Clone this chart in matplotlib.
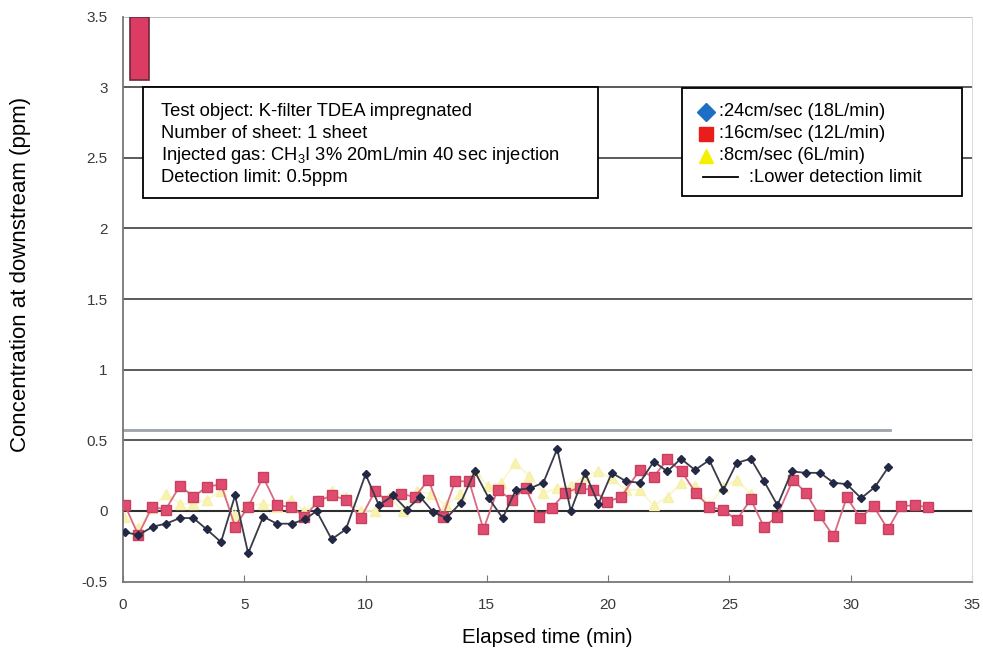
import matplotlib
matplotlib.use("Agg")
import matplotlib.pyplot as plt
from matplotlib.patches import Rectangle
from matplotlib.lines import Line2D

plt.rcParams['font.family'] = ['Liberation Sans', 'DejaVu Sans']
plt.rcParams['mathtext.fontset'] = 'custom'
plt.rcParams['mathtext.rm'] = 'Liberation Sans'
plt.rcParams['mathtext.it'] = 'Liberation Sans:italic'

# ---- data ----
t_24 = [0.08, 0.63, 1.25, 1.77, 2.35, 2.90, 3.45, 4.04, 4.62, 5.16, 5.78, 6.34, 6.95, 7.50,
        7.98, 8.60, 9.19, 10.00, 10.55, 11.14, 11.70, 12.25, 12.80, 13.34, 13.93, 14.50,
        15.08, 15.65, 16.20, 16.77, 17.33, 17.90, 18.46, 19.05, 19.60, 20.15, 20.74, 21.30,
        21.88, 22.44, 23.00, 23.58, 24.17, 24.75, 25.30, 25.88, 26.43, 26.98, 27.57, 28.15,
        28.74, 29.29, 29.84, 30.43, 31.00, 31.55]
c_24 = [-0.15, -0.17, -0.11, -0.09, -0.05, -0.05, -0.13, -0.22, 0.11, -0.30, -0.04, -0.09,
        -0.09, -0.06, 0.00, -0.20, -0.13, 0.26, 0.04, 0.11, 0.01, 0.10, -0.01, -0.05, 0.06,
        0.28, 0.09, -0.05, 0.15, 0.16, 0.20, 0.44, 0.00, 0.27, 0.05, 0.27, 0.21, 0.20, 0.35,
        0.28, 0.37, 0.29, 0.36, 0.15, 0.34, 0.37, 0.21, 0.04, 0.28, 0.27, 0.27, 0.20, 0.19,
        0.09, 0.17, 0.31]

t_16 = [0.08, 0.63, 1.20, 1.76, 2.35, 2.90, 3.45, 4.04, 4.62, 5.16, 5.78, 6.34, 6.91, 7.48,
        8.05, 8.60, 9.20, 9.80, 10.39, 10.90, 11.45, 12.04, 12.59, 13.18, 13.69, 14.27,
        14.86, 15.44, 16.02, 16.60, 17.15, 17.67, 18.24, 18.82, 19.39, 19.97, 20.54, 21.30,
        21.87, 22.44, 23.03, 23.62, 24.17, 24.75, 25.30, 25.88, 26.43, 26.95, 27.62, 28.15,
        28.70, 29.29, 29.84, 30.39, 30.94, 31.53, 32.08, 32.66, 33.20]
c_16 = [0.04, -0.17, 0.03, 0.01, 0.18, 0.10, 0.17, 0.19, -0.11, 0.03, 0.24, 0.04, 0.03,
        -0.04, 0.07, 0.11, 0.08, -0.05, 0.14, 0.07, 0.12, 0.10, 0.22, -0.04, 0.21, 0.21,
        -0.13, 0.15, 0.08, 0.16, -0.045, 0.02, 0.13, 0.165, 0.145, 0.066, 0.10, 0.29, 0.24,
        0.365, 0.28, 0.125, 0.03, 0.007, -0.064, 0.083, -0.115, -0.04, 0.22, 0.13, -0.03,
        -0.18, 0.097, -0.05, 0.035, -0.13, 0.035, 0.04, 0.026]

t_8 = [0.05, 0.63, 1.20, 1.77, 2.35, 2.90, 3.45, 4.04, 4.62, 5.16, 5.78, 6.34, 6.91, 7.48,
       8.05, 8.60, 9.20, 9.80, 10.39, 10.95, 11.55, 12.10, 12.70, 13.30, 13.90, 14.50,
       15.06, 15.60, 16.16, 16.75, 17.33, 17.90, 18.45, 19.05, 19.60, 20.15, 20.72, 21.30,
       21.87, 22.45, 23.02, 23.60, 24.17, 24.75, 25.30, 25.88]
c_8 = [-0.04, -0.12, 0.02, 0.12, 0.05, 0.05, 0.08, 0.14, -0.03, 0.04, 0.05, 0.03, 0.08,
       0.00, 0.08, 0.14, 0.10, 0.00, 0.00, 0.10, 0.00, 0.14, 0.12, 0.04, 0.12, 0.28, 0.18,
       0.20, 0.34, 0.25, 0.13, 0.16, 0.18, 0.25, 0.28, 0.23, 0.15, 0.15, 0.04, 0.10, 0.20,
       0.18, 0.04, 0.17, 0.22, 0.12]

# stray block at top-left (x0, x1, y0, y1)
block = [0.28, 1.08, 3.05, 3.5]
# light line just above the 0.5 gridline
upper_line_y = 0.57
upper_line_end = 31.6

x_ticks = [0, 5, 10, 15, 20, 25, 30, 35]
y_ticks = [-0.5, 0, 0.5, 1, 1.5, 2, 2.5, 3, 3.5]
y_tick_labels = ['-0.5', '0', '0.5', '1', '1.5', '2', '2.5', '3', '3.5']

info_lines = ["Test object: K-filter TDEA impregnated",
              "Number of sheet: 1 sheet",
              "Injected gas: CH$_3$I 3% 20mL/min 40 sec injection",
              "Detection limit: 0.5ppm"]
legend_labels = [":24cm/sec (18L/min)", ":16cm/sec (12L/min)", ":8cm/sec (6L/min)",
                 ":Lower detection limit"]

# ---- figure ----
fig = plt.figure(figsize=(9.83, 6.57), dpi=100)
ax = fig.add_axes([123 / 983, 1 - 581.6 / 657, 849 / 983, 565 / 657])
ax.set_xlim(0, 35)
ax.set_ylim(-0.5, 3.5)

# gridlines
for yv in y_ticks[1:]:
    if yv == 0:
        ax.axhline(yv, color='#2e2e2e', lw=1.5, zorder=1)
    elif yv == 3.5:
        ax.axhline(yv, color='#bbbbbb', lw=1.3, zorder=1)
    else:
        ax.axhline(yv, color='#5a5a5a', lw=1.4, zorder=1)
ax.plot([0, upper_line_end], [upper_line_y, upper_line_y], color='#9ea4aa', lw=2.0, zorder=1)

# stray block
ax.add_patch(Rectangle((block[0], block[2]), block[1] - block[0], block[3] - block[2],
                       facecolor='#dc3c64', edgecolor='#6a2a38', lw=1.2, zorder=3))

# series
ax.plot(t_8, c_8, color='#faf7cc', lw=1.3, marker='^', ms=7, mfc='#f8f3b0', mec='#f6f0a8',
        zorder=2)
ax.plot(t_16, c_16, color='#d86a84', lw=1.3, marker='s', ms=6.5, mfc='#e04c70', mec='#c8405e',
        zorder=3)
ax.plot(t_24, c_24, color='#3a3a48', lw=1.3, marker='D', ms=4.5, mfc='#232844', mec='#232844',
        zorder=4)

# axes styling
ax.spines['top'].set_visible(False)
ax.spines['right'].set_color('#dddddd')
ax.spines['left'].set_color('#777777')
ax.spines['bottom'].set_color('#777777')
ax.spines['left'].set_linewidth(1.3)
ax.spines['bottom'].set_linewidth(1.3)
ax.set_xticks(x_ticks)
ax.set_xticklabels([str(v) for v in x_ticks])
ax.set_yticks(y_ticks)
ax.set_yticklabels(y_tick_labels)
ax.tick_params(axis='x', direction='in', length=5, color='#777777', pad=12,
               labelsize=11, labelcolor='#3a3a3a')
ax.tick_params(axis='y', length=0, pad=11, labelsize=11, labelcolor='#3a3a3a')
ax.set_xlabel("Elapsed time (min)", fontsize=14.8, labelpad=11)
ax.set_ylabel("Concentration at downstream (ppm)", fontsize=16)
ax.yaxis.set_label_coords(-0.108, 0.543)

# info box
W, H = 983, 657
def fx(px):
    return px / W
def fy(py):
    return 1 - py / H

fs_box = 13.2
fig.patches.append(Rectangle((fx(143), fy(198)), (598 - 143) / W, (198 - 87.5) / H,
                             transform=fig.transFigure, facecolor='white',
                             edgecolor='black', lw=1.3, zorder=5))
for i, line in enumerate(info_lines):
    fig.text(fx(161), fy(111 + 22.2 * i), line, fontsize=fs_box, va='center', ha='left',
             zorder=6)

# legend box
fig.patches.append(Rectangle((fx(681.5), fy(196)), (962 - 681.5) / W, (196 - 88) / H,
                             transform=fig.transFigure, facecolor='white',
                             edgecolor='black', lw=1.3, zorder=5))
leg_markers = [('D', '#1d6fc4'), ('s', '#ea1c1c'), ('^', '#f4f000')]
for i, (m, c) in enumerate(leg_markers):
    y = fy(111.5 + 22 * i)
    fig.add_artist(Line2D([fx(706)], [y], marker=m, ms=10 if m != 'D' else 9, color=c,
                          ls='none', transform=fig.transFigure, zorder=6))
    fig.text(fx(719), y, legend_labels[i], fontsize=fs_box, va='center', ha='left', zorder=6)
y = fy(177)
fig.add_artist(Line2D([fx(703), fx(738)], [y, y], color='black', lw=1.3,
                      transform=fig.transFigure, zorder=6))
fig.text(fx(749), y, legend_labels[3], fontsize=fs_box, va='center', ha='left', zorder=6)

fig.savefig("out.png", dpi=100)
